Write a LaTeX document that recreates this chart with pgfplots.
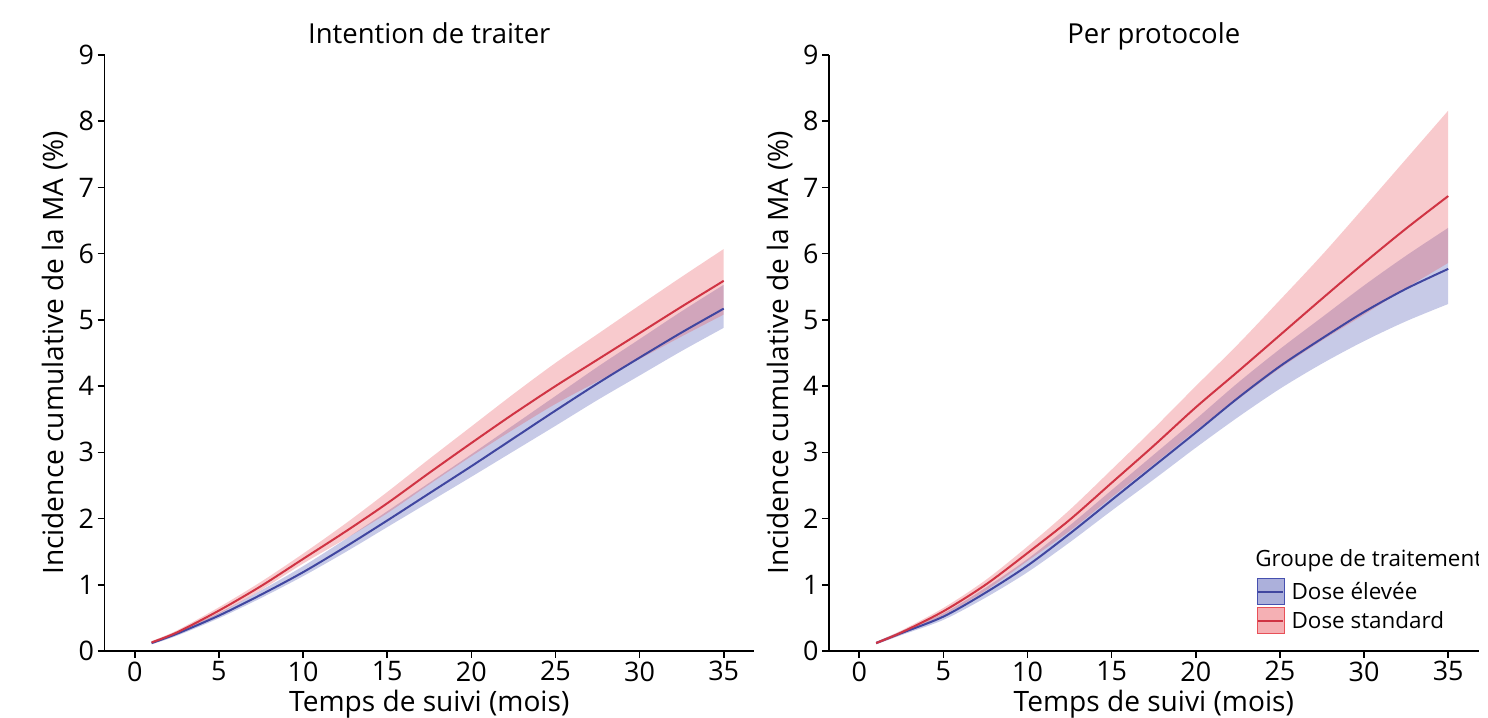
\documentclass[border=0pt]{standalone}
\usepackage{fontspec}
\setmainfont{Open Sans}
\usepackage{pgfplots}
\pgfplotsset{compat=1.18}
\usepackage{pgfplotstable}
\usepgfplotslibrary{fillbetween}

\definecolor{redline}{RGB}{208,52,68}
\definecolor{blueline}{RGB}{64,70,160}
\definecolor{redfill}{RGB}{232,80,88}
\definecolor{bluefill}{RGB}{70,80,175}

\pgfplotstableread{
t    rl    rm    rh    bl    bm    bh
1    0.11  0.13  0.15  0.10  0.12  0.14
2.5  0.25  0.28  0.31  0.23  0.26  0.29
5    0.56  0.61  0.66  0.495 0.535 0.575
7.5  0.92  0.98  1.045 0.80  0.85  0.915
10   1.32  1.39  1.47  1.13  1.19  1.28
12.5 1.69  1.80  1.92  1.49  1.57  1.685
15   2.08  2.23  2.40  1.87  1.97  2.11
17.5 2.515 2.69  2.90  2.25  2.38  2.54
20   2.94  3.14  3.39  2.63  2.79  2.97
22.5 3.345 3.58  3.88  3.015 3.21  3.41
25   3.73  4.00  4.35  3.40  3.63  3.85
27.5 4.07  4.40  4.785 3.79  4.04  4.29
30   4.41  4.80  5.22  4.16  4.43  4.71
32.5 4.75  5.20  5.65  4.53  4.81  5.13
35   5.08  5.59  6.07  4.88  5.17  5.53
}\itttab

\pgfplotstableread{
t    rl    rm    rh    bl    bm    bh
1    0.10  0.12  0.14  0.10  0.12  0.14
2.5  0.25  0.28  0.31  0.24  0.27  0.30
5    0.54  0.60  0.65  0.47  0.52  0.57
7.5  0.91  1.00  1.07  0.805 0.88  0.955
10   1.36  1.48  1.58  1.19  1.29  1.39
12.5 1.81  1.98  2.13  1.64  1.77  1.895
15   2.32  2.54  2.74  2.12  2.28  2.43
17.5 2.82  3.10  3.36  2.59  2.79  2.965
20   3.33  3.68  4.00  3.07  3.30  3.50
22.5 3.80  4.22  4.63  3.53  3.82  4.05
25   4.27  4.77  5.30  3.96  4.30  4.56
27.5 4.69  5.32  5.98  4.34  4.72  5.04
30   5.08  5.86  6.70  4.68  5.12  5.52
32.5 5.48  6.38  7.43  4.98  5.47  5.97
35   5.86  6.87  8.16  5.24  5.77  6.39
}\pptab

\pgfplotsset{
 myaxis/.style={
  scale only axis, width=649.5bp, height=596bp,
  xmin=-1.8, xmax=36.8, ymin=0, ymax=9,
  axis lines=left, axis line style={-, line width=1.6bp, black},
  xtick={0,5,...,35}, ytick={0,1,...,9},
  tick align=outside, major tick length=7bp, tick style={line width=1.6bp, black},
  /pgf/number format/assume math mode=true,
  tick label style={font=\fontsize{27}{30}\selectfont},
  label style={font=\fontsize{28.2}{31}\selectfont},
  title style={font=\fontsize{27.6}{30}\selectfont, at={(axis description cs:0.5,1)}, anchor=base, yshift=6bp},
  xlabel={Temps de suivi (mois)},
  ylabel={Incidence cumulative de la MA (\%)},
  xlabel style={at={(axis description cs:0.5,0)}, anchor=base, yshift=-60.5bp},
  ylabel style={at={(axis description cs:-0.076,0.5)}, anchor=center},
  anchor=south west,
 },
}

\newcommand{\drawpanel}[1]{%
  \addplot[draw=none, smooth, name path=bh, forget plot] table[x=t,y=bh]{#1};
  \addplot[draw=none, smooth, name path=bl, forget plot] table[x=t,y=bl]{#1};
  \addplot[draw=none, smooth, name path=rh, forget plot] table[x=t,y=rh]{#1};
  \addplot[draw=none, smooth, name path=rl, forget plot] table[x=t,y=rl]{#1};
  \addplot[fill=bluefill, fill opacity=0.3, draw=none, forget plot] fill between[of=bh and bl];
  \addplot[fill=redfill, fill opacity=0.3, draw=none, forget plot] fill between[of=rh and rl];
  \addplot[blueline, line width=2bp, smooth, forget plot] table[x=t,y=bm]{#1};
  \addplot[redline, line width=2bp, smooth, forget plot] table[x=t,y=rm]{#1};
}

\begin{document}
\begin{tikzpicture}
\begin{axis}[myaxis, at={(104.5bp,67bp)}, title={Intention de traiter}]
\drawpanel{\itttab}
\end{axis}
\begin{axis}[myaxis, at={(829bp,67bp)}, title={Per protocole},
  legend style={at={(rel axis cs:0.659,0.122)}, anchor=north west, draw=none, fill=none,
    font=\fontsize{22.5}{26}\selectfont, inner sep=0pt, row sep=2.5bp,
    /tikz/every odd column/.append style={column sep=5bp}},
  legend cell align=left]
\drawpanel{\pptab}
\addlegendimage{legend image code/.code={
  \fill[bluefill, fill opacity=0.45] (0bp,-13bp) rectangle (27bp,13bp);
  \draw[blueline, line width=2bp] (1bp,0bp) -- (26bp,0bp);}}
\addlegendentry{Dose élevée}
\addlegendimage{legend image code/.code={
  \fill[redfill, fill opacity=0.45] (0bp,-13bp) rectangle (27bp,13bp);
  \draw[redline, line width=2bp] (1bp,0bp) -- (26bp,0bp);}}
\addlegendentry{Dose standard}
\node[anchor=base west, font=\fontsize{22.5}{26}\selectfont, inner sep=0pt] at (rel axis cs:0.656,0.1426) {Groupe de traitement};
\end{axis}
\pgfresetboundingbox
\path[use as bounding box] (0,0) rectangle (1488bp,718bp);
\end{tikzpicture}
\end{document}
